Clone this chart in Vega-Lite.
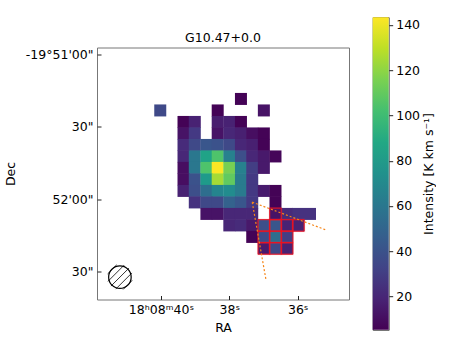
{
"$schema":"https://vega.github.io/schema/vega-lite/v6.json",
"padding":{"left":3,"top":16,"right":0,"bottom":0},
"autosize":{"type":"pad"},
"background":"white",
"config":{"font":"DejaVu Sans","view":{"stroke":null},"axis":{"grid":false,"labelFont":"DejaVu Sans","titleFont":"DejaVu Sans","labelColor":"black","titleColor":"black","titleFontWeight":"normal","labelFontSize":12.5,"titleFontSize":12.5}},
"hconcat":[
{"width":252,"height":252,
"title":{"text":"G10.47+0.0","fontSize":12.5,"fontWeight":"normal","font":"DejaVu Sans","offset":3},
"view":{"stroke":"#777","strokeWidth":1},
"layer":[
{"data":{"name":"cells"},"mark":{"type":"rect","width":12,"height":12},
"encoding":{
"x":{"field":"ra","type":"quantitative","scale":{"domain":[41.87,34.5],"nice":false,"zero":false},
"axis":{"values":[40,38,36],"title":"RA","domain":false,"tickSize":-4,"tickColor":"#222","labelPadding":8,"titlePadding":5,"labelExpr":"datum.value==40?'18ʰ08ᵐ40ˢ':datum.value==38?'38ˢ':'36ˢ'"}},
"y":{"field":"d","type":"quantitative","scale":{"domain":[-2.9,101.4],"nice":false,"zero":false,"reverse":true},
"axis":{"values":[0,30,60,90],"title":"Dec","domain":false,"tickSize":-4,"tickColor":"#222","labelPadding":8,"titlePadding":8,"labelExpr":"datum.value==0?'-19°51\\'00\"':datum.value==60?'52\\'00\"':'30\"'"}},
"color":{"field":"v","type":"quantitative","scale":{"scheme":"viridis","domain":[5.3,143.4]},"legend":null}}},
{"data":{"name":"cells"},"transform":[{"filter":"datum.box==1"}],"mark":{"type":"rect","width":11.6,"height":11.6,"fill":null,"stroke":"#ff3344","strokeWidth":2.2,"opacity":0.15},
"encoding":{"x":{"field":"ra","type":"quantitative"},"y":{"field":"d","type":"quantitative"}}},
{"data":{"name":"cells"},"transform":[{"filter":"datum.box==1"}],"mark":{"type":"rect","width":11.6,"height":11.6,"fill":null,"stroke":"#f0101c","strokeWidth":0.9},
"encoding":{"x":{"field":"ra","type":"quantitative"},"y":{"field":"d","type":"quantitative"}}},
{"data":{"values":[{"ra":37.33,"d":61.1,"ra2":36.93,"d2":93.1},{"ra":37.33,"d":61.1,"ra2":35.14,"d2":72.8}]},
"mark":{"type":"rule","color":"#f58518","strokeWidth":1.2,"strokeDash":[2,2]},
"encoding":{"x":{"field":"ra","type":"quantitative"},"y":{"field":"d","type":"quantitative"},"x2":{"field":"ra2"},"y2":{"field":"d2"}}},
{"data":{"values":[{"ra":41.463,"d":95.87,"ra2":40.937,"d2":88.43},{"ra":41.323,"d":97.11,"ra2":40.85,"d2":90.41},{"ra":41.55,"d":93.89,"ra2":41.077,"d2":87.19},{"ra":41.104,"d":97.23,"ra2":40.841,"d2":93.51},{"ra":41.559,"d":90.79,"ra2":41.296,"d2":87.07}]},
"mark":{"type":"rule","color":"black","strokeWidth":0.8},
"encoding":{"x":{"field":"ra","type":"quantitative"},"y":{"field":"d","type":"quantitative"},"x2":{"field":"ra2"},"y2":{"field":"d2"}}},
{"data":{"values":[{"ra":41.2,"d":92.15}]},"mark":{"type":"point","shape":"circle","size":507,"filled":false,"stroke":"black","strokeWidth":1.2,"opacity":1},
"encoding":{"x":{"field":"ra","type":"quantitative"},"y":{"field":"d","type":"quantitative"}}}
]},
{"width":16,"height":312.6,
"view":{"stroke":"#555","strokeWidth":1},
"data":{"values":[{"lo":5.3,"hi":143.4}]},
"mark":{"type":"rect","color":{"gradient":"linear","x1":0,"y1":1,"x2":0,"y2":0,"stops":[{"offset":0,"color":"#440154"},{"offset":0.1,"color":"#482475"},{"offset":0.2,"color":"#414487"},{"offset":0.3,"color":"#355f8d"},{"offset":0.4,"color":"#2a788e"},{"offset":0.5,"color":"#21918c"},{"offset":0.6,"color":"#22a884"},{"offset":0.7,"color":"#44bf70"},{"offset":0.8,"color":"#7ad151"},{"offset":0.9,"color":"#bddf26"},{"offset":1,"color":"#fde725"}]}},
"encoding":{"y":{"field":"lo","type":"quantitative","scale":{"domain":[5.3,143.4],"nice":false,"zero":false},
"axis":{"orient":"right","values":[20,40,60,80,100,120,140],"title":"Intensity [K km s⁻¹]","titleAngle":270,"domain":false,"tickSize":4,"tickColor":"#222","labelPadding":3,"titlePadding":16}},"y2":{"field":"hi"}}}
],
"spacing":23.7,
"center":true,
"bounds":"flush",
"datasets":{"cells":[
{"ra":37.66,"d":18.39,"v":6},
{"ra":40.02,"d":23.15,"v":35},{"ra":38.34,"d":23.15,"v":6},{"ra":36.99,"d":23.15,"v":12},
{"ra":39.34,"d":27.91,"v":6},{"ra":39.01,"d":27.91,"v":18},{"ra":38.34,"d":27.91,"v":16},{"ra":38.0,"d":27.91,"v":18},{"ra":37.66,"d":27.91,"v":6},
{"ra":39.34,"d":32.67,"v":12},{"ra":39.01,"d":32.67,"v":28},{"ra":38.34,"d":32.67,"v":12},{"ra":38.0,"d":32.67,"v":20},{"ra":37.66,"d":32.67,"v":17},{"ra":37.33,"d":32.67,"v":10},{"ra":36.99,"d":32.67,"v":6},
{"ra":39.34,"d":37.43,"v":22},{"ra":39.01,"d":37.43,"v":35},{"ra":38.67,"d":37.43,"v":42},{"ra":38.34,"d":37.43,"v":40},{"ra":38.0,"d":37.43,"v":35},{"ra":37.66,"d":37.43,"v":20},{"ra":37.33,"d":37.43,"v":17},{"ra":36.99,"d":37.43,"v":6},
{"ra":39.34,"d":42.19,"v":20},{"ra":39.01,"d":42.19,"v":60},{"ra":38.67,"d":42.19,"v":85},{"ra":38.34,"d":42.19,"v":105},{"ra":38.0,"d":42.19,"v":65},{"ra":37.66,"d":42.19,"v":38},{"ra":37.33,"d":42.19,"v":20},{"ra":36.99,"d":42.19,"v":14},{"ra":36.65,"d":42.19,"v":7},
{"ra":39.34,"d":46.94,"v":10},{"ra":39.01,"d":46.94,"v":60},{"ra":38.67,"d":46.94,"v":105},{"ra":38.34,"d":46.94,"v":143},{"ra":38.0,"d":46.94,"v":115},{"ra":37.66,"d":46.94,"v":65},{"ra":37.33,"d":46.94,"v":30},{"ra":36.99,"d":46.94,"v":14},
{"ra":39.34,"d":51.7,"v":10},{"ra":39.01,"d":51.7,"v":40},{"ra":38.67,"d":51.7,"v":80},{"ra":38.34,"d":51.7,"v":125},{"ra":38.0,"d":51.7,"v":110},{"ra":37.66,"d":51.7,"v":62},{"ra":37.33,"d":51.7,"v":28},
{"ra":39.34,"d":56.46,"v":18},{"ra":39.01,"d":56.46,"v":38},{"ra":38.67,"d":56.46,"v":55},{"ra":38.34,"d":56.46,"v":68},{"ra":38.0,"d":56.46,"v":72},{"ra":37.66,"d":56.46,"v":62},{"ra":37.33,"d":56.46,"v":28},{"ra":36.99,"d":56.46,"v":15},{"ra":36.65,"d":56.46,"v":6},
{"ra":39.01,"d":61.22,"v":25},{"ra":38.67,"d":61.22,"v":35},{"ra":38.34,"d":61.22,"v":35},{"ra":38.0,"d":61.22,"v":48},{"ra":37.66,"d":61.22,"v":42},{"ra":37.33,"d":61.22,"v":28},{"ra":36.65,"d":61.22,"v":6},
{"ra":38.67,"d":65.98,"v":12},{"ra":38.34,"d":65.98,"v":12},{"ra":38.0,"d":65.98,"v":20},{"ra":37.66,"d":65.98,"v":20},{"ra":37.33,"d":65.98,"v":20},{"ra":36.65,"d":65.98,"v":12,"box":1},{"ra":36.31,"d":65.98,"v":22},{"ra":35.98,"d":65.98,"v":25},{"ra":35.64,"d":65.98,"v":25},
{"ra":38.0,"d":70.74,"v":20},{"ra":37.66,"d":70.74,"v":22},{"ra":37.33,"d":70.74,"v":14},{"ra":36.99,"d":70.74,"v":38,"box":1},{"ra":36.65,"d":70.74,"v":42,"box":1},{"ra":36.31,"d":70.74,"v":18,"box":1},{"ra":35.98,"d":70.74,"v":18,"box":1},
{"ra":37.33,"d":75.5,"v":6},{"ra":36.99,"d":75.5,"v":36,"box":1},{"ra":36.65,"d":75.5,"v":55,"box":1},{"ra":36.31,"d":75.5,"v":30,"box":1},
{"ra":36.99,"d":80.26,"v":15,"box":1},{"ra":36.65,"d":80.26,"v":35,"box":1},{"ra":36.31,"d":80.26,"v":18,"box":1}
]}
}
